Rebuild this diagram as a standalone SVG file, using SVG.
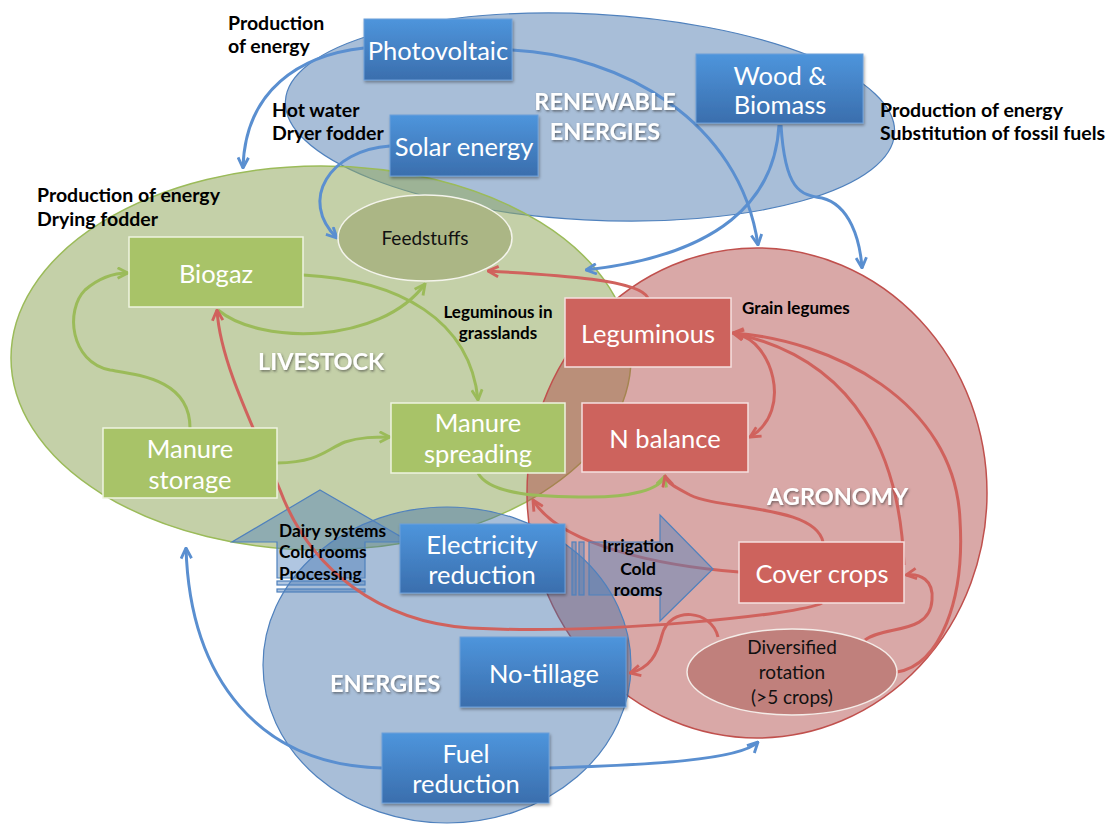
<svg xmlns="http://www.w3.org/2000/svg" width="1115" height="824" viewBox="0 0 1115 824">
<defs>
<style>
.lbl{font-family:Lato,"Liberation Sans",sans-serif;font-weight:bold;fill:#000;}
.ttl{font-family:Lato,"Liberation Sans",sans-serif;font-weight:bold;fill:#fff;font-size:23.5px;filter:url(#tsh);}
.box{font-family:Lato,"Liberation Sans",sans-serif;fill:#fff;font-size:25.5px;text-anchor:middle;}
.dark{font-family:Lato,"Liberation Sans",sans-serif;fill:#111;font-size:19px;text-anchor:middle;}
.bl{fill:none;stroke:#5a8fd0;stroke-width:3;marker-end:url(#ab);}
.gr{fill:none;stroke:#9bbb59;stroke-width:3;marker-end:url(#ag);}
.rd{fill:none;stroke:#d0625d;stroke-width:3;marker-end:url(#ar);}
.bbox{fill:url(#bg);stroke:#6d9fd9;stroke-width:1;filter:url(#sh);}
.gbox{fill:#a8c368;stroke:#eef3e0;stroke-width:1.5;}
.rbox{fill:#cd635d;stroke:#f5e0df;stroke-width:1.5;}
.blk{fill:#4f81bd;fill-opacity:0.45;stroke:#4f81bd;stroke-width:1.2;}
</style>
<linearGradient id="bg" x1="0" y1="0" x2="0" y2="1">
<stop offset="0" stop-color="#4e95dc"/>
<stop offset="1" stop-color="#3a6ead"/>
</linearGradient>
<filter id="sh" x="-10%" y="-10%" width="130%" height="140%">
<feDropShadow dx="1" dy="2" stdDeviation="1.5" flood-color="#000" flood-opacity="0.35"/>
</filter>
<filter id="tsh" x="-10%" y="-30%" width="130%" height="170%">
<feDropShadow dx="1" dy="1.5" stdDeviation="1.2" flood-color="#333" flood-opacity="0.6"/>
</filter>
<marker id="ab" viewBox="0 0 10 10" refX="9" refY="5" markerWidth="13" markerHeight="13" markerUnits="userSpaceOnUse" orient="auto">
<path d="M1,1 L9,5 L1,9" fill="none" stroke="#5a8fd0" stroke-width="2.2"/>
</marker>
<marker id="ag" viewBox="0 0 10 10" refX="9" refY="5" markerWidth="13" markerHeight="13" markerUnits="userSpaceOnUse" orient="auto">
<path d="M1,1 L9,5 L1,9" fill="none" stroke="#9bbb59" stroke-width="2.2"/>
</marker>
<marker id="ar" viewBox="0 0 10 10" refX="9" refY="5" markerWidth="13" markerHeight="13" markerUnits="userSpaceOnUse" orient="auto">
<path d="M1,1 L9,5 L1,9" fill="none" stroke="#d0625d" stroke-width="2.2"/>
</marker>
</defs>
<rect width="1115" height="824" fill="#fff"/>

<g id="domains">
<ellipse id="renewable-area" cx="590" cy="117" rx="305" ry="103" transform="rotate(3 590 117)" fill="#3f6fa8" fill-opacity="0.45" stroke="#4f81bd" stroke-width="1.2"/>
<ellipse id="livestock-area" cx="321" cy="358" rx="310" ry="192" fill="#94aa60" fill-opacity="0.55" stroke="#9bbb59" stroke-width="1.5"/>
<ellipse id="agronomy-area" cx="757" cy="493" rx="230" ry="245" fill="#b04a48" fill-opacity="0.48" stroke="#c0504d" stroke-width="1.5"/>
<ellipse id="energies-area" cx="447" cy="665" rx="184" ry="158" fill="#3f6fa8" fill-opacity="0.45" stroke="#4f81bd" stroke-width="1.2"/>
</g>

<g id="up-arrow">
<path class="blk" d="M320 490 L410 542 L365 542 L365 578 L277 578 L277 542 L232 542 Z"/>
<rect class="blk" x="277" y="581" width="88" height="4"/>
<rect class="blk" x="277" y="589" width="88" height="3"/>
</g>

<g id="connectors">
<path class="bl" d="M364 48 C300 55 245 90 243 168"/>
<path class="bl" d="M512 50 C620 55 740 120 758 245"/>
<path class="bl" d="M390 146 C330 150 298 200 337 238"/>
<path class="bl" d="M779 125 C775 200 720 255 586 270"/>
<path class="bl" d="M781 125 C785 190 800 195 822 198 C850 205 860 240 862 268"/>
<path class="bl" d="M382 768 C260 765 190 680 186 548"/>
<path class="bl" d="M549 768 C650 765 740 760 758 742"/>

<path class="gr" d="M190 428 C190 380 140 375 110 370 C70 362 65 310 85 290 C100 277 115 273 128 273"/>
<path class="gr" d="M218 310 C260 345 380 345 425 284"/>
<path class="gr" d="M303 275 C400 280 470 320 478 400"/>
<path class="gr" d="M277 463 C320 462 325 450 345 442 C360 437 375 437 390 437"/>
<path class="gr" d="M478 473 C490 495 540 497 590 497 C630 497 660 490 665 476"/>

<path class="rd" d="M648 298 C640 280 560 275 488 271"/>
<path class="rd" d="M738 335 C770 340 795 410 750 437"/>
<path class="rd" d="M904 565 C900 460 860 360 733 333"/>
<path class="rd" d="M897 672 C940 665 965 600 960 520 C955 400 830 340 733 333"/>
<path class="rd" d="M865 640 C885 625 930 635 932 600 C934 580 920 573 906 575"/>
<path class="rd" d="M823 542 C815 505 720 510 690 495 C675 487 667 483 665 476"/>
<path class="rd" d="M822 603 C800 615 600 635 470 628 C380 622 310 570 280 490 C250 420 220 360 217 310"/>
<path class="rd" d="M739 572 C660 566 560 545 533 500"/>
<path class="rd" d="M718 637 C712 610 670 605 662 635 C657 655 650 668 630 673"/>
</g>

<g id="right-arrow">
<rect class="blk" x="572" y="542" width="4" height="53"/>
<rect class="blk" x="579" y="542" width="5" height="53"/>
<path class="blk" d="M589 542 L660 542 L660 515 L713 569 L660 621 L660 595 L589 595 Z"/>
</g>

<g id="photovoltaic"><rect class="bbox" x="364" y="19" width="148" height="61"/><text class="box" x="438" y="60" font-size="20">Photovoltaic</text></g>
<g id="solar-energy"><rect class="bbox" x="390" y="115" width="148" height="61"/><text class="box" x="464" y="156" font-size="20">Solar energy</text></g>
<g id="wood-biomass"><rect class="bbox" x="696" y="54" width="167" height="69"/><text class="box" x="780" y="85" font-size="22">Wood &amp;</text><text class="box" x="780" y="114" font-size="22">Biomass</text></g>
<g id="feedstuffs"><ellipse cx="425" cy="238" rx="87" ry="43" fill="#abb685" stroke="#f4f4ec" stroke-width="1.5"/><text class="dark" x="425" y="245">Feedstuffs</text></g>
<g id="biogaz"><rect class="gbox" x="129" y="237" width="174" height="70"/><text class="box" x="216" y="283" font-size="24.5">Biogaz</text></g>
<g id="manure-storage"><rect class="gbox" x="103" y="428" width="174" height="70"/><text class="box" x="190" y="458">Manure</text><text class="box" x="190" y="489">storage</text></g>
<g id="manure-spreading"><rect class="gbox" x="391" y="403" width="174" height="70"/><text class="box" x="478" y="432">Manure</text><text class="box" x="478" y="463">spreading</text></g>
<g id="leguminous"><rect class="rbox" x="565" y="298" width="166" height="69"/><text class="box" x="648" y="343">Leguminous</text></g>
<g id="n-balance"><rect class="rbox" x="582" y="403" width="166" height="69"/><text class="box" x="665" y="448">N balance</text></g>
<g id="electricity-reduction"><rect class="bbox" x="400" y="524" width="165" height="69"/><text class="box" x="482" y="554">Electricity</text><text class="box" x="482" y="584">reduction</text></g>
<g id="cover-crops"><rect class="rbox" x="739" y="542" width="165" height="61"/><text class="box" x="822" y="583">Cover crops</text></g>
<g id="diversified-rotation"><ellipse cx="792" cy="672" rx="105" ry="43" fill="#c0807c" stroke="#f4ece8" stroke-width="1.5"/><text class="dark" x="792" y="654">Diversified</text><text class="dark" x="792" y="679">rotation</text><text class="dark" x="792" y="704">(&gt;5 crops)</text></g>
<g id="no-tillage"><rect class="bbox" x="460" y="637" width="166" height="70"/><text class="box" x="544" y="683">No-tillage</text></g>
<g id="fuel-reduction"><rect class="bbox" x="382" y="733" width="167" height="70"/><text class="box" x="466" y="763">Fuel</text><text class="box" x="466" y="793">reduction</text></g>

<g id="labels">
<text class="lbl" x="228" y="30" font-size="19.5">Production</text>
<text class="lbl" x="228" y="53" font-size="19.5">of energy</text>
<text class="lbl" x="272" y="117" font-size="19.5">Hot water</text>
<text class="lbl" x="272" y="140" font-size="19.5">Dryer fodder</text>
<text class="lbl" x="37" y="202" font-size="19.5">Production of energy</text>
<text class="lbl" x="37" y="226" font-size="19.5">Drying fodder</text>
<text class="lbl" x="880" y="117" font-size="19.5">Production of energy</text>
<text class="lbl" x="880" y="140" font-size="19.5">Substitution of fossil fuels</text>
<text class="lbl" x="742" y="314" font-size="17">Grain legumes</text>
<text class="lbl" x="498" y="318" font-size="17" text-anchor="middle">Leguminous in</text>
<text class="lbl" x="498" y="339" font-size="17" text-anchor="middle">grasslands</text>
<text class="lbl" x="279" y="537" font-size="17.3">Dairy systems</text>
<text class="lbl" x="279" y="558" font-size="17.3">Cold rooms</text>
<text class="lbl" x="279" y="580" font-size="17.3">Processing</text>
<text class="lbl" x="638" y="552" font-size="17.5" text-anchor="middle">Irrigation</text>
<text class="lbl" x="638" y="575" font-size="17.5" text-anchor="middle">Cold</text>
<text class="lbl" x="638" y="596" font-size="17.5" text-anchor="middle">rooms</text>
<text class="ttl" x="605" y="110" text-anchor="middle">RENEWABLE</text>
<text class="ttl" x="605" y="140" text-anchor="middle">ENERGIES</text>
<text class="ttl" x="258" y="370" font-size="22.5">LIVESTOCK</text>
<text class="ttl" x="767" y="505">AGRONOMY</text>
<text class="ttl" x="330" y="692">ENERGIES</text>
</g>
</svg>
